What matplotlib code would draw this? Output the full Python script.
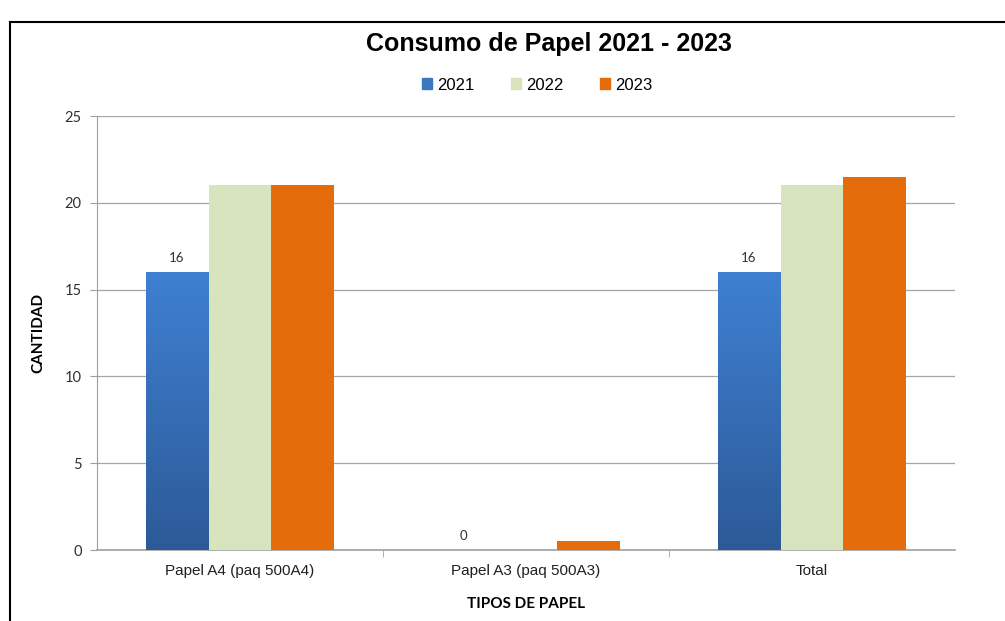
import matplotlib
matplotlib.use("Agg")
import matplotlib.pyplot as plt
import numpy as np
from matplotlib.colors import LinearSegmentedColormap
from matplotlib.patches import Rectangle
from matplotlib.lines import Line2D

categories = ["Papel A4 (paq 500A4)", "Papel A3 (paq 500A3)", "Total"]
years = ["2021", "2022", "2023"]
v2021 = [16, 0, 16]
v2022 = [21, 0, 21]
v2023 = [21, 0.5, 21.5]
yticks = [0, 5, 10, 15, 20, 25]

colors = {"2021": "#3A78C4", "2022": "#D7E4BD", "2023": "#E46C0A"}

fig = plt.figure(figsize=(10.05, 6.21), dpi=100)
ax = fig.add_axes([97/1005, 1-550/621, (955-97)/1005, (550-116)/621])

x = np.arange(len(categories))
w = 0.22
series = [v2021, v2022, v2023]
bars_by_year = {}
for i, (yr, vals) in enumerate(zip(years, series)):
    bars = ax.bar(x + (i-1)*w, vals, width=w, color=colors[yr], label=yr,
                  zorder=3, edgecolor="none")
    bars_by_year[yr] = bars

# gradient for 2021 bars
cmap = LinearSegmentedColormap.from_list("bl", ["#2C5A97", "#3F80D2"])
grad = np.linspace(0, 1, 256).reshape(-1, 1)
for b in bars_by_year["2021"]:
    h = b.get_height()
    if h > 0:
        b.set_facecolor("none")
        ax.imshow(grad, cmap=cmap, origin="lower", aspect="auto",
                  extent=[b.get_x(), b.get_x()+b.get_width(), 0, h], zorder=3)

# data labels on 2021
for b, v in zip(bars_by_year["2021"], v2021):
    ax.text(b.get_x()+b.get_width()/2, v + 0.45, str(v), ha="center", va="bottom",
            fontsize=9.5, color="#303030", family="Lato")

ax.set_xlim(-0.5, 2.5)
ax.set_ylim(0, 25)
ax.set_yticks(yticks)
ax.set_yticklabels([str(t) for t in yticks], family="Lato", fontsize=10.5, color="#303030")
ax.set_xticks(x)
ax.set_xticklabels(categories, family="Liberation Sans", fontsize=11, color="#202020")
ax.set_xticks([0.5, 1.5], minor=True)
ax.tick_params(axis="x", which="major", length=0, pad=10)
ax.tick_params(axis="x", which="minor", length=5, color="#A0A0A0")
ax.tick_params(axis="y", length=5, color="#A0A0A0", pad=6)
ax.grid(axis="y", color="#A6A6A6", linewidth=0.9, zorder=0)
ax.set_axisbelow(True)
for s in ["top", "right"]:
    ax.spines[s].set_visible(False)
ax.spines["left"].set_color("#A0A0A0")
ax.spines["bottom"].set_color("#A0A0A0")
ax.spines["bottom"].set_linewidth(1.2)

ax.set_ylabel("CANTIDAD", family="Lato", fontweight="bold", fontsize=11, labelpad=14)
ax.set_xlabel("TIPOS DE PAPEL", family="Lato", fontweight="bold", fontsize=11, labelpad=14)

fig.text(549/1005, 1-44/621, "Consumo de Papel 2021 - 2023", ha="center", va="center",
         family="Liberation Sans", fontweight="bold", fontsize=18)

handles = [Rectangle((0, 0), 1, 1, color=c) for c in ["#3A78C4", "#D7E4BD", "#E46C0A"]]
fig.legend(handles, years, loc="center", bbox_to_anchor=(537/1005, 1-85/621), ncol=3,
           frameon=False, prop={"family": "Liberation Sans", "size": 12},
           handlelength=0.6, handleheight=0.6, handletextpad=0.3, columnspacing=2.2)

# outer frame
fig.add_artist(Line2D([10/1005, 10/1005], [0, 1-22/621], transform=fig.transFigure,
                      color="black", linewidth=1.5))
fig.add_artist(Line2D([10/1005, 1], [1-22/621, 1-22/621], transform=fig.transFigure,
                      color="black", linewidth=1.5))

fig.savefig("out.png", dpi=100)
